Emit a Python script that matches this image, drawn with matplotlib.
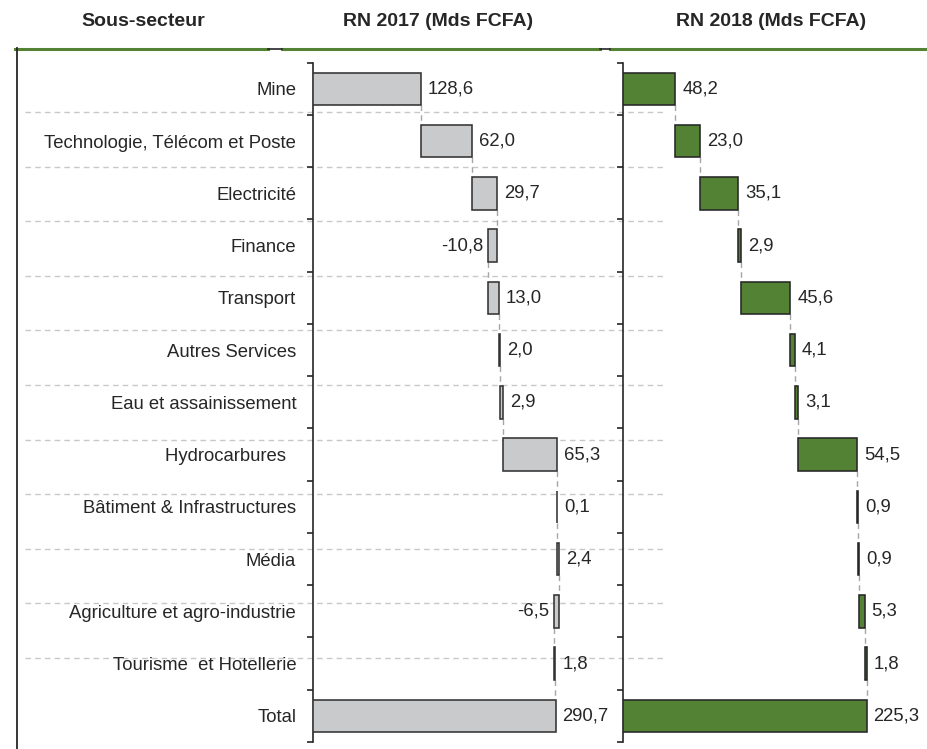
import numpy as np
import matplotlib
matplotlib.use("Agg")
import matplotlib.pyplot as plt
from matplotlib.lines import Line2D

plt.rcParams['font.family'] = ['Liberation Sans', 'DejaVu Sans']

# data
categories = ["Mine", "Technologie, Télécom et Poste", "Electricité", "Finance",
              "Transport", "Autres Services", "Eau et assainissement",
              "Hydrocarbures  ", "Bâtiment & Infrastructures", "Média",
              "Agriculture et agro-industrie", "Tourisme  et Hotellerie", "Total"]
rn2017 = [128.6, 62.0, 29.7, -10.8, 13.0, 2.0, 2.9, 65.3, 0.1, 2.4, -6.5, 1.8]
rn2018 = [48.2, 23.0, 35.1, 2.9, 45.6, 4.1, 3.1, 54.5, 0.9, 0.9, 5.3, 1.8]
total2017 = 290.7
total2018 = 225.3
headers = ["Sous-secteur", "RN 2017 (Mds FCFA)", "RN 2018 (Mds FCFA)"]

W, H = 928, 749
fig = plt.figure(figsize=(W / 100, H / 100), dpi=100)

def fx(px):
    return px / W

def fy(py):
    return 1 - py / H

top, bot = 62.7, 742
n = len(categories)
FS = 13.3


def waterfall(ax, vals, total, fill, edge):
    starts = np.concatenate([[0], np.cumsum(vals)[:-1]])
    ends = starts + np.array(vals)
    y = np.arange(len(vals))
    h = 0.62
    ax.barh(y, vals, left=starts, height=h, color=fill, edgecolor=edge,
            linewidth=1.15, zorder=3)
    ax.barh([len(vals)], [total], left=0, height=h, color=fill,
            edgecolor=edge, linewidth=1.15, zorder=3)
    # connectors
    for i in range(len(vals)):
        ax.plot([ends[i], ends[i]], [i + h / 2, i + 1 - h / 2], color='#a6a6a6',
                lw=1.0, ls=(0, (4, 3)), zorder=2)
    for i, v in enumerate(vals):
        lab = f"{v:.1f}".replace('.', ',')
        if v >= 0:
            ax.annotate(lab, (ends[i], i), xytext=(5, 0), textcoords='offset points',
                        ha='left', va='center', fontsize=FS, color='#262626')
        else:
            ax.annotate(lab, (ends[i], i), xytext=(-3, 0), textcoords='offset points',
                        ha='right', va='center', fontsize=FS, color='#262626')
    ax.annotate(f"{total:.1f}".replace('.', ','), (total, len(vals)), xytext=(5, 0),
                textcoords='offset points', ha='left', va='center',
                fontsize=FS, color='#262626')
    ax.set_ylim(n - 0.5, -0.5)
    ax.set_yticks(np.arange(n + 1) - 0.5)
    ax.set_yticklabels([])
    ax.tick_params(axis='y', which='major', length=4, width=1.2, direction='out',
                   color='#262626')
    ax.set_xticks([])
    for s in ['top', 'right', 'bottom']:
        ax.spines[s].set_visible(False)
    ax.spines['left'].set_linewidth(1.2)
    ax.spines['left'].set_color('#262626')
    ax.patch.set_visible(False)


ax1 = fig.add_axes([fx(313.5), fy(bot), fx(360 * 0.8325), (bot - top) / H])
ax1.set_xlim(0, 360)
waterfall(ax1, rn2017, total2017, '#c9cacc', '#333333')
ax1.set_yticks(np.arange(n), minor=True)
ax1.set_yticklabels(categories, minor=True, fontsize=FS, color='#262626')
ax1.tick_params(axis='y', which='minor', length=0, pad=12.5)

ax2 = fig.add_axes([fx(623.5), fy(bot), fx(280 * 1.0786), (bot - top) / H])
ax2.set_xlim(0, 280)
waterfall(ax2, rn2018, total2018, '#548235', '#262626')

# table decorations
for k in range(11):
    yy = 112 + 54.6 * k
    fig.add_artist(Line2D([fx(25), fx(665)], [fy(yy), fy(yy)], color='#c8c8c8',
                          lw=1.0, ls=(0, (4, 3)), zorder=-1))
green = '#548235'
for a, b in [(15, 268), (282, 600), (610, 928)]:
    fig.add_artist(Line2D([fx(a), fx(b)], [fy(48.5), fy(48.5)], color=green, lw=2.2))
for a, b in [(268, 282), (600, 610)]:
    fig.add_artist(Line2D([fx(a), fx(b)], [fy(49), fy(49)], color='#262626', lw=1.2))
fig.add_artist(Line2D([fx(17), fx(17)], [fy(48), fy(749)], color='#262626', lw=1.3))

for txt, xc in zip(headers, [143, 438, 771]):
    fig.text(fx(xc), fy(22), txt, ha='center', va='center', fontsize=14,
             fontweight='bold', color='#262626')

fig.savefig('out.png', dpi=100)
